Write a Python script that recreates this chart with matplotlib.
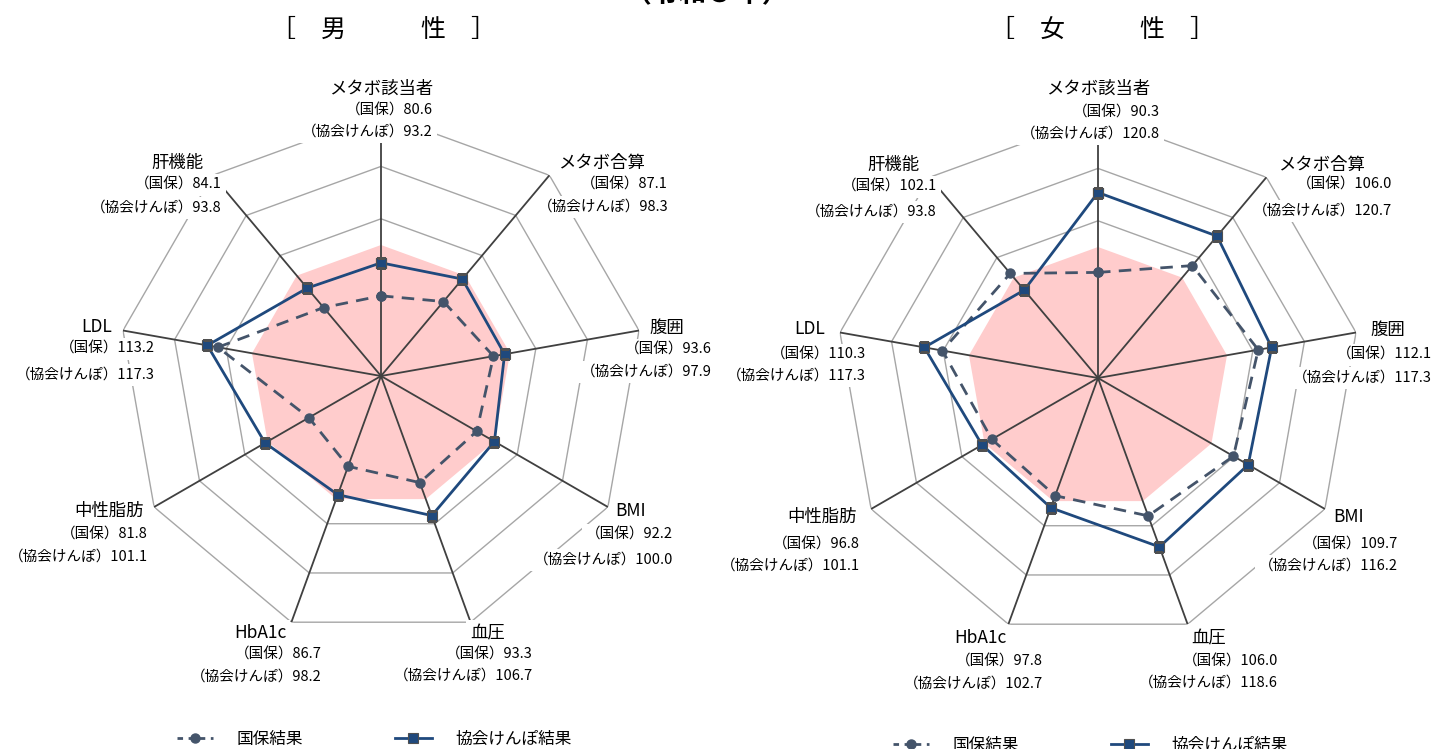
"""
特定健診結果レーダーチャート（令和５年）
"""
import matplotlib
matplotlib.use('Agg')
import matplotlib.pyplot as plt
from matplotlib.lines import Line2D
import numpy as np

plt.rcParams['font.family'] = ['Noto Sans CJK JP', 'DejaVu Sans']

# データ
categories = ['メタボ該当者', 'メタボ合算', '腹囲', 'BMI', '血圧',
              'HbA1c', '中性脂肪', 'LDL', '肝機能']
male_kokuho = [80.6, 87.1, 93.6, 92.2, 93.3, 86.7, 81.8, 113.2, 84.1]
male_kyokai = [93.2, 98.3, 97.9, 100.0, 106.7, 98.2, 101.1, 117.3, 93.8]
female_kokuho = [90.3, 106.0, 112.1, 109.7, 106.0, 97.8, 96.8, 110.3, 102.1]
female_kyokai = [120.8, 120.7, 117.3, 116.2, 118.6, 102.7, 101.1, 117.3, 93.8]
reference = 100
r_min, r_max = 50, 150
ring_levels = [70, 90, 110, 130, 150]

W, H = 1434, 749

# 色
c_ring = '#a6a6a6'
c_spoke = '#404040'
c_pink = '#ffcccc'
c_kokuho = '#44546a'
c_kyokai = '#1f497d'

# ラベル配置（ピクセル）: 名前中心x, 名前y, 数値右端x, 国保y, 協会y
male_layout = [
    (381, 89, 433, 111, 132),
    (601, 163, 668, 185, 207),
    (667, 328, 712, 350, 372),
    (631, 511, 673, 535, 560),
    (488, 633, 533, 655, 676),
    (260, 633, 322, 655, 677),
    (109, 511, 148, 535, 557),
    (97, 327, 155, 349, 375),
    (177, 163, 222, 185, 208),
]
female_layout = [
    (1098, 89, 1160, 113, 134),
    (1321, 165, 1392, 185, 211),
    (1388, 330, 1432, 355, 378),
    (1349, 517, 1398, 545, 566),
    (1209, 638, 1278, 662, 683),
    (980, 638, 1043, 662, 684),
    (822, 517, 860, 545, 566),
    (810, 329, 866, 355, 376),
    (893, 165, 937, 187, 212),
]


def px(x, y):
    return x / W, 1 - y / H


def radar(fig, center, radius, kokuho, kyokai, layout):
    cx, cy = center
    ax = fig.add_axes([(cx - radius) / W, (H - cy - radius) / H,
                       2 * radius / W, 2 * radius / H], projection='polar')
    ax.set_theta_zero_location('N')
    ax.set_theta_direction(-1)
    ax.set_ylim(r_min, r_max)
    ax.grid(False)
    ax.set_xticks([])
    ax.set_yticks([])
    ax.spines['polar'].set_visible(False)
    ax.patch.set_alpha(0)

    n = len(categories)
    theta = np.arange(n) * 2 * np.pi / n
    tc = np.append(theta, theta[0])

    for lv in ring_levels:
        ax.plot(tc, [lv] * (n + 1), color=c_ring, lw=1, zorder=1)
    ax.fill(tc, [reference] * (n + 1), color=c_pink, lw=0, zorder=2)
    for t in theta:
        ax.plot([t, t], [r_min, r_max], color=c_spoke, lw=1.3, zorder=3)

    ax.plot(tc, np.append(kokuho, kokuho[0]), color=c_kokuho, lw=2,
            linestyle=(0, (4.5, 3)), marker='o', markersize=6.5,
            markerfacecolor=c_kokuho, markeredgecolor=c_kokuho, zorder=4)
    ax.plot(tc, np.append(kyokai, kyokai[0]), color=c_kyokai, lw=2,
            marker='s', markersize=7, markerfacecolor=c_kyokai,
            markeredgecolor='#505050', markeredgewidth=0.8, zorder=5)

    box = dict(facecolor='white', edgecolor='none', pad=3)
    for name, a, b, (nx, ny, vx, y1, y2) in zip(categories, kokuho, kyokai, layout):
        fig.text(*px(nx, ny), name, ha='center', va='center', fontsize=12.5,
                 bbox=box)
        fig.text(*px(vx, y1), f'（国保）{a:.1f}', ha='right', va='center',
                 fontsize=10.5, bbox=box)
        fig.text(*px(vx, y2), f'（協会けんぽ）{b:.1f}', ha='right', va='center',
                 fontsize=10.5, bbox=box)
    return ax


fig = plt.figure(figsize=(W / 100, H / 100), dpi=100)

radar(fig, (381, 376), 262, male_kokuho, male_kyokai, male_layout)
radar(fig, (1098, 378), 262, female_kokuho, female_kyokai, female_layout)

fig.text(*px(707, -6), '（令和５年）', ha='center', va='center',
         fontsize=20, fontweight='bold')
fig.text(*px(384, 30), '［　男　　　性　］', ha='center', va='center', fontsize=18)
fig.text(*px(1102, 30), '［　女　　　性　］', ha='center', va='center', fontsize=18)

# 凡例
handles = [
    Line2D([], [], color=c_kokuho, lw=2, linestyle=(0, (2, 2)), marker='o',
           markersize=6.5, markerfacecolor=c_kokuho),
    Line2D([], [], color=c_kyokai, lw=2, marker='s', markersize=7,
           markerfacecolor=c_kyokai, markeredgecolor='#505050',
           markeredgewidth=0.8),
]
labels = ['国保結果', '協会けんぽ結果']
for x, y in [(374, 739), (1090, 745)]:
    fig.legend(handles, labels, loc='center', bbox_to_anchor=px(x, y), ncol=2,
               frameon=False, fontsize=12, handlelength=2.2, handletextpad=1.4,
               columnspacing=5.5)

fig.savefig('out.png', dpi=100)
